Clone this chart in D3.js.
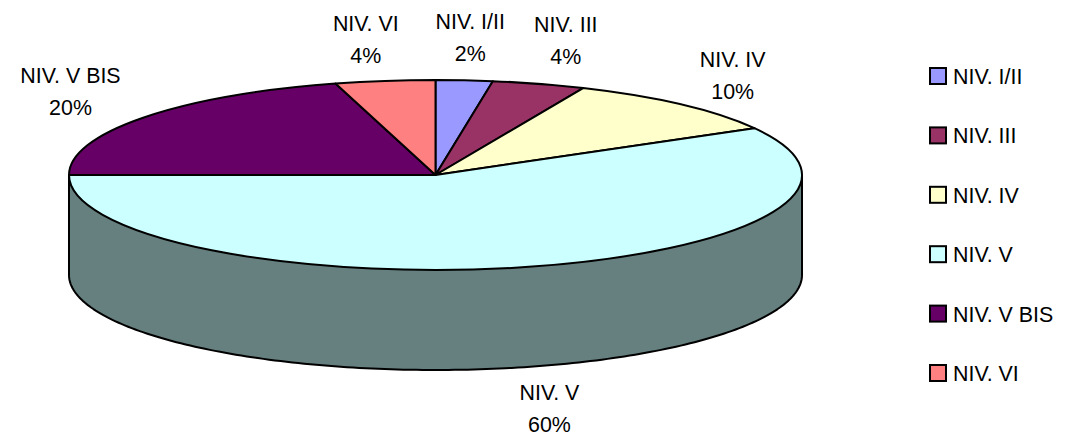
<!DOCTYPE html>
<html>
<head>
<meta charset="utf-8">
<script src="https://cdn.jsdelivr.net/npm/d3@7"></script>
<style>
  html, body { margin: 0; padding: 0; background: #fff; }
  svg { display: block; }
  text { font-family: "Liberation Sans", Arial, sans-serif; font-size: 21.4px; fill: #000; }
</style>
</head>
<body>
<div id="chart"></div>
<script>
const categories = ['NIV. I/II', 'NIV. III', 'NIV. IV', 'NIV. V', 'NIV. V BIS', 'NIV. VI'];
const values = [2.5, 4.1, 10.2, 58.2, 20.6, 4.4];
const pctLabels = ['2%', '4%', '10%', '60%', '20%', '4%'];
const colors = ['#9999ff', '#993366', '#ffffcc', '#ccffff', '#660066', '#ff8080'];

const width = 1076;
const height = 432;
const cx = 435.5;
const cy = 175;
const rx = 366.5;
const ry = 95;
const depth = 100;
const lineH = 32;

// small hand nudges, excel places these labels a bit unevenly
const labelNudge = [[-1, 0], [2, -2], [-8, 3], [-2, 0], [-2, 0], [-7, 1]];

const svg = d3.select('#chart').append('svg')
  .attr('width', width)
  .attr('height', height)
  .attr('viewBox', `0 0 ${width} ${height}`);

const arcs = d3.pie().sort(null).value(d => d)(values);

// side wall, only the front half can be seen
const wallLine = d3.line()
  .x(a => cx + rx * Math.cos(a))
  .y(a => cy + depth + ry * Math.sin(a));

const wallPts = d3.range(0, 181).map(d => d * Math.PI / 180);
const wallPath = wallLine(wallPts) + `L${cx - rx},${cy}L${cx + rx},${cy}Z`;

svg.append('path')
  .attr('d', wallPath)
  .attr('fill', '#667f7f')
  .attr('stroke', '#000')
  .attr('stroke-width', 2)
  .attr('stroke-linejoin', 'round');

// top face: a normal pie squashed into an ellipse
const topFace = svg.append('g')
  .attr('transform', `translate(${cx},${cy}) scale(1,${ry / rx})`);

const arcGen = d3.arc().innerRadius(0).outerRadius(rx);

topFace.selectAll('path')
  .data(arcs)
  .join('path')
  .attr('d', arcGen)
  .attr('fill', (d, i) => colors[i])
  .attr('stroke', '#000')
  .attr('stroke-width', 2)
  .attr('stroke-linejoin', 'round')
  .attr('vector-effect', 'non-scaling-stroke');

// outer labels follow the mid angle of each slice
const labels = svg.selectAll('.pie-label')
  .data(arcs)
  .join('text')
  .attr('class', 'pie-label')
  .attr('text-anchor', 'middle')
  .attr('transform', (d, i) => {
    const mid = (d.startAngle + d.endAngle) / 2;
    const front = Math.cos(mid) < 0 ? depth : 0;
    const x = cx + 455 * Math.sin(mid) + labelNudge[i][0];
    const y = cy + front - 138 * Math.cos(mid) + labelNudge[i][1];
    return `translate(${x},${y})`;
  });

labels.append('tspan').attr('x', 0).attr('y', -lineH / 2 + 7.5).text((d, i) => categories[i]);
labels.append('tspan').attr('x', 0).attr('y', lineH / 2 + 7.5).text((d, i) => pctLabels[i]);

// legend
const legendY = d3.scalePoint().domain(categories).range([76, 373]);

const legend = svg.selectAll('.legend-item')
  .data(categories)
  .join('g')
  .attr('class', 'legend-item')
  .attr('transform', d => `translate(930,${legendY(d)})`);

legend.append('rect')
  .attr('x', 0)
  .attr('y', -8)
  .attr('width', 16)
  .attr('height', 16)
  .attr('fill', (d, i) => colors[i])
  .attr('stroke', '#000')
  .attr('stroke-width', 2);

legend.append('text')
  .attr('x', 23)
  .attr('y', 8)
  .text(d => d);
</script>
</body>
</html>
